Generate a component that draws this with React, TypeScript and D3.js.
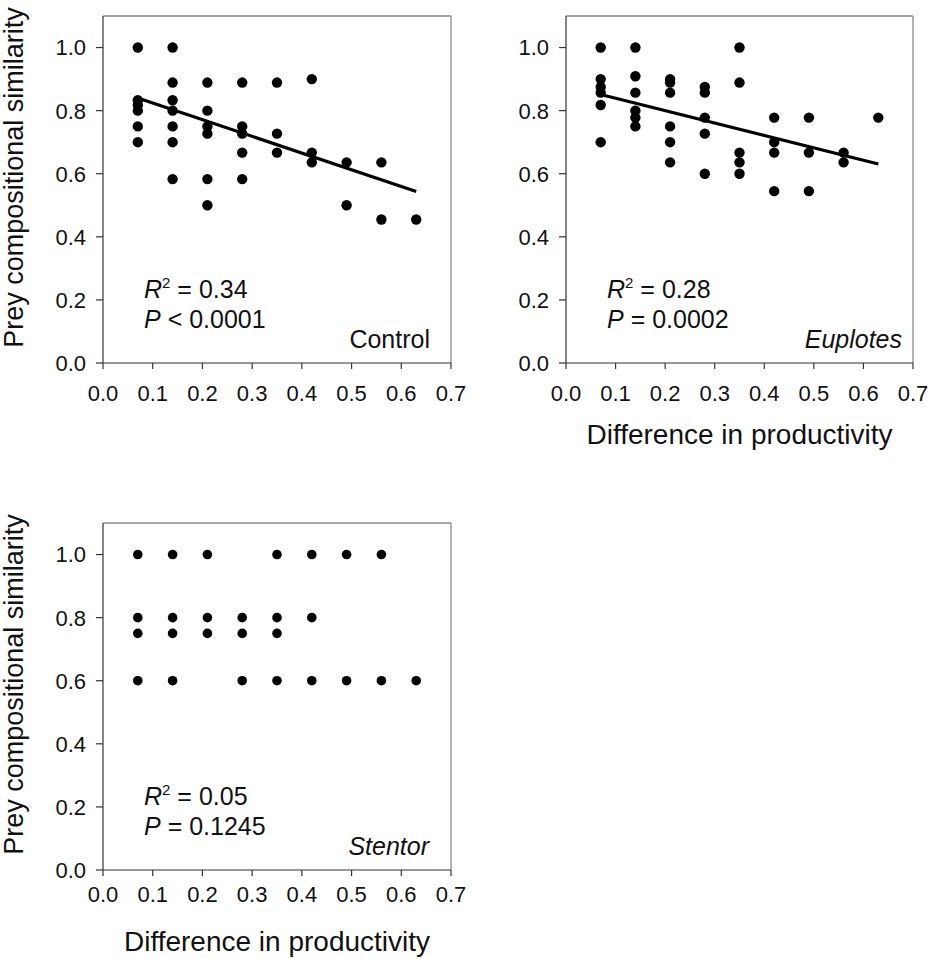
import React from "react";
import * as d3 from "d3";

// ---- data ----
const xTickValues = [0, 0.1, 0.2, 0.3, 0.4, 0.5, 0.6, 0.7];
const yTickValues = [0, 0.2, 0.4, 0.6, 0.8, 1.0];

const controlPoints: [number, number][] = [
  [0.07, 1.0], [0.07, 0.833], [0.07, 0.818], [0.07, 0.8], [0.07, 0.75], [0.07, 0.7],
  [0.14, 1.0], [0.14, 0.889], [0.14, 0.833], [0.14, 0.8], [0.14, 0.75], [0.14, 0.7], [0.14, 0.583],
  [0.21, 0.889], [0.21, 0.8], [0.21, 0.75], [0.21, 0.727], [0.21, 0.583], [0.21, 0.5],
  [0.28, 0.889], [0.28, 0.75], [0.28, 0.727], [0.28, 0.667], [0.28, 0.583],
  [0.35, 0.889], [0.35, 0.727], [0.35, 0.667],
  [0.42, 0.9], [0.42, 0.667], [0.42, 0.636],
  [0.49, 0.636], [0.49, 0.5],
  [0.56, 0.636], [0.56, 0.455],
  [0.63, 0.455],
];

const euplotesPoints: [number, number][] = [
  [0.07, 1.0], [0.07, 0.9], [0.07, 0.875], [0.07, 0.857], [0.07, 0.818], [0.07, 0.7],
  [0.14, 1.0], [0.14, 0.909], [0.14, 0.857], [0.14, 0.8], [0.14, 0.778], [0.14, 0.75],
  [0.21, 0.9], [0.21, 0.889], [0.21, 0.857], [0.21, 0.75], [0.21, 0.7], [0.21, 0.636],
  [0.28, 0.875], [0.28, 0.857], [0.28, 0.778], [0.28, 0.727], [0.28, 0.6],
  [0.35, 1.0], [0.35, 0.889], [0.35, 0.667], [0.35, 0.636], [0.35, 0.6],
  [0.42, 0.778], [0.42, 0.7], [0.42, 0.667], [0.42, 0.545],
  [0.49, 0.778], [0.49, 0.667], [0.49, 0.545],
  [0.56, 0.667], [0.56, 0.636],
  [0.63, 0.778],
];

const stentorPoints: [number, number][] = [
  [0.07, 1.0], [0.07, 0.8], [0.07, 0.75], [0.07, 0.6],
  [0.14, 1.0], [0.14, 0.8], [0.14, 0.75], [0.14, 0.6],
  [0.21, 1.0], [0.21, 0.8], [0.21, 0.75],
  [0.28, 0.8], [0.28, 0.75], [0.28, 0.6],
  [0.35, 1.0], [0.35, 0.8], [0.35, 0.75], [0.35, 0.6],
  [0.42, 1.0], [0.42, 0.8], [0.42, 0.6],
  [0.49, 1.0], [0.49, 0.6],
  [0.56, 1.0], [0.56, 0.6],
  [0.63, 0.6],
];

// regression line end points (x, y)
const controlFit: [number, number][] = [[0.07, 0.84], [0.63, 0.544]];
const euplotesFit: [number, number][] = [[0.07, 0.851], [0.63, 0.631]];

const panelNames = ["Control", "Euplotes", "Stentor"];
const r2Labels = ["0.34", "0.28", "0.05"];
const pLabels = ["< 0.0001", "= 0.0002", "= 0.1245"];

const yTitle = "Prey compositional similarity";
const xTitle = "Difference in productivity";

const FONT = "'Liberation Sans', Arial, Helvetica, sans-serif";

type PanelProps = {
  left: number; right: number; top: number; bottom: number;
  points: [number, number][];
  fit?: [number, number][];
  name: string; italicName: boolean; nameRight: number;
  r2: string; p: string;
  showYTitle: boolean; showXTitle: boolean;
  xLabelOffset: number;
  dotR: number;
};

function Panel(props: PanelProps) {
  const { left, right, top, bottom, points, fit, name, italicName, nameRight, r2, p,
    showYTitle, showXTitle, xLabelOffset, dotR } = props;
  const x = d3.scaleLinear().domain([0, 0.7]).range([left, right]);
  const y = d3.scaleLinear().domain([0, 1.1]).range([bottom, top]);
  const line = d3.line<[number, number]>().x(d => x(d[0])).y(d => y(d[1]));
  const axisColor = "#333";
  const frameColor = "#8a8a8a";
  return (
    <g fontFamily={FONT}>
      {/* frame */}
      <line x1={left} x2={right} y1={top} y2={top} stroke={frameColor} strokeWidth={1.3} />
      <line x1={right} x2={right} y1={top} y2={bottom} stroke={frameColor} strokeWidth={1.3} />
      <line x1={left} x2={left} y1={top} y2={bottom} stroke={axisColor} strokeWidth={1.2} />
      <line x1={left} x2={right} y1={bottom} y2={bottom} stroke={axisColor} strokeWidth={1.2} />
      {/* y ticks */}
      {yTickValues.map(v => (
        <g key={"y" + v}>
          <line x1={left - 7} x2={left} y1={y(v)} y2={y(v)} stroke={axisColor} strokeWidth={1.2} />
          <text x={left - 17} y={y(v)} dy="0.36em" textAnchor="end" fontSize={22} fill="#111">{d3.format(".1f")(v)}</text>
        </g>
      ))}
      {/* x ticks */}
      {xTickValues.map(v => (
        <g key={"x" + v}>
          <line x1={x(v)} x2={x(v)} y1={bottom} y2={bottom + 6} stroke={axisColor} strokeWidth={1.2} />
          <text x={x(v)} y={bottom + xLabelOffset} textAnchor="middle" fontSize={22} fill="#111">{d3.format(".1f")(v)}</text>
        </g>
      ))}
      {/* points */}
      {points.map((d, i) => (
        <circle key={i} cx={x(d[0])} cy={y(d[1])} r={dotR} fill="#000" />
      ))}
      {fit && <path d={line(fit) || ""} stroke="#000" strokeWidth={3.2} fill="none" />}
      {/* annotations */}
      <text x={left + 41} y={bottom - 65} fontSize={25} fill="#111">
        <tspan fontStyle="italic">R</tspan>
        <tspan fontSize={15} dy={-10}>2</tspan>
        <tspan dy={10}>{" = " + r2}</tspan>
      </text>
      <text x={left + 41} y={bottom - 35} fontSize={25} fill="#111">
        <tspan fontStyle="italic">P</tspan>
        <tspan>{" " + p}</tspan>
      </text>
      <text x={right - nameRight} y={bottom - 15} fontSize={25} textAnchor="end" fill="#111"
        fontStyle={italicName ? "italic" : "normal"}>{name}</text>
      {showYTitle && (
        <text transform={`translate(${left - 80},${(top + bottom) / 2 - 12}) rotate(-90)`}
          textAnchor="middle" fontSize={27} fill="#111">{yTitle}</text>
      )}
      {showXTitle && (
        <text x={(left + right) / 2} y={bottom + 81} textAnchor="middle" fontSize={28} fill="#111">{xTitle}</text>
      )}
    </g>
  );
}

export default function App() {
  return (
    <svg width={931} height={959} style={{ position: "absolute", left: 0, top: 0, background: "#fff" }}>
      <rect x={0} y={0} width={931} height={959} fill="#fff" />
      <Panel left={103} right={451} top={16} bottom={363} points={controlPoints} fit={controlFit}
        name={panelNames[0]} italicName={false} nameRight={21} r2={r2Labels[0]} p={pLabels[0]}
        showYTitle={true} showXTitle={false} xLabelOffset={38} dotR={5.2} />
      <Panel left={566} right={913} top={16} bottom={363} points={euplotesPoints} fit={euplotesFit}
        name={panelNames[1]} italicName={true} nameRight={11} r2={r2Labels[1]} p={pLabels[1]}
        showYTitle={false} showXTitle={true} xLabelOffset={38} dotR={5.2} />
      <Panel left={103} right={451} top={523} bottom={870} points={stentorPoints}
        name={panelNames[2]} italicName={true} nameRight={22} r2={r2Labels[2]} p={pLabels[2]}
        showYTitle={true} showXTitle={true} xLabelOffset={32} dotR={4.8} />
    </svg>
  );
}
